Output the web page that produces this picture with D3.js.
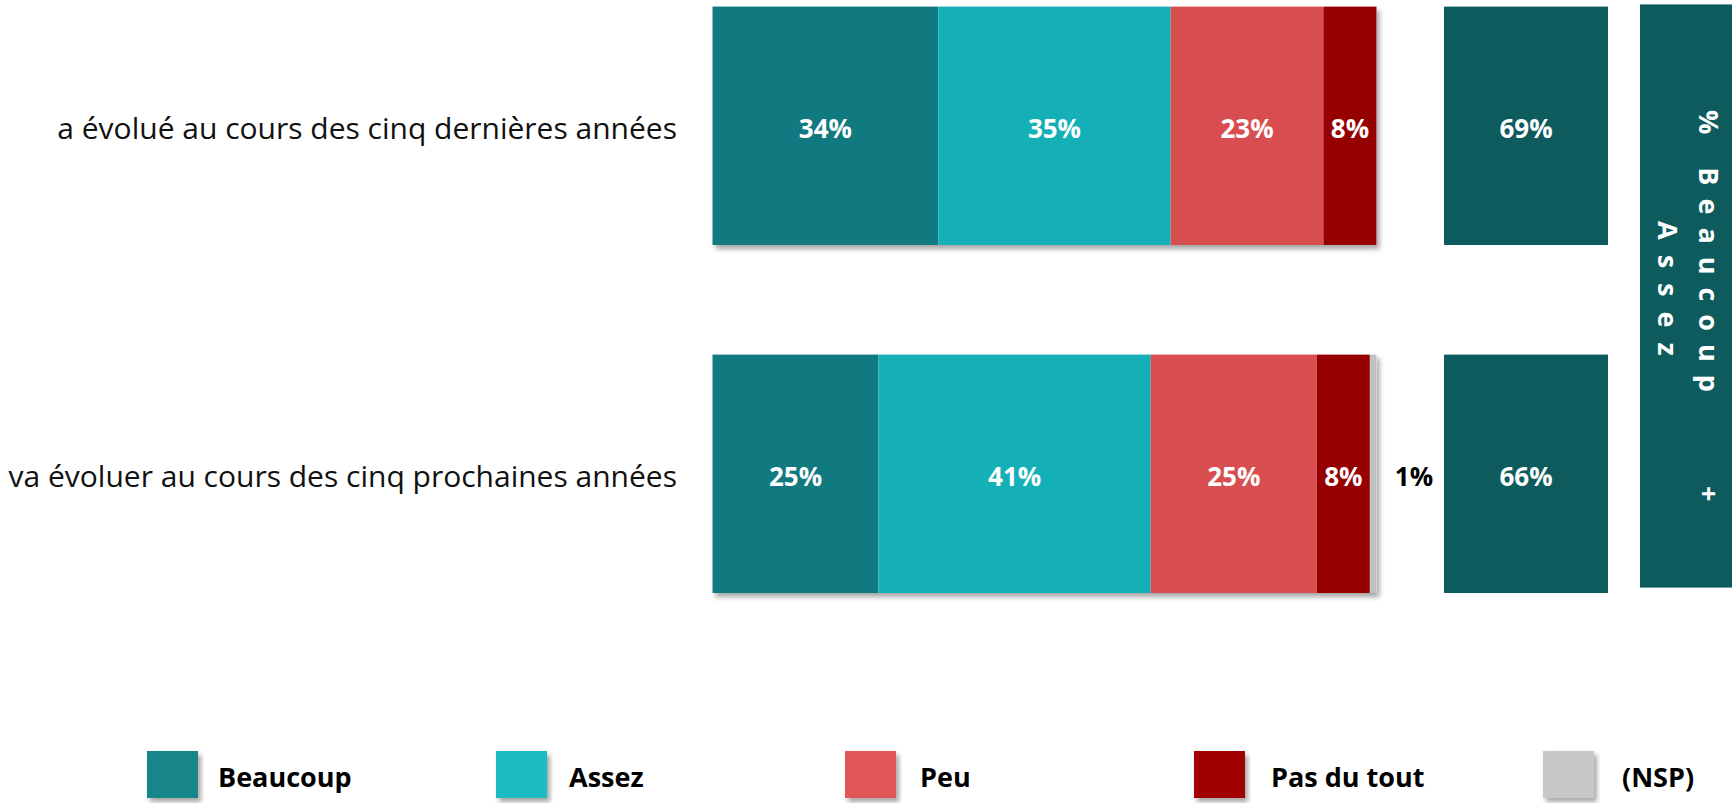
<!DOCTYPE html>
<html lang="fr">
<head>
<meta charset="utf-8">
<title>Evolution - Beaucoup / Assez / Peu</title>
<script src="https://cdn.jsdelivr.net/npm/d3@7"></script>
<style>
  body { margin: 0; background: #fff; }
  text { font-family: 'Open Sans', sans-serif; }
</style>
</head>
<body>
<script>
var w = 1732, h = 803;

// data
var categories = ['a évolué au cours des cinq dernières années', 'va évoluer au cours des cinq prochaines années'];
var seriesNames = ['Beaucoup', 'Assez', 'Peu', 'Pas du tout', '(NSP)'];
var beaucoup = [34, 25];
var assez = [35, 41];
var peu = [23, 25];
var pasDuTout = [8, 8];
var nsp = [0, 1];
var totals = [69, 66];
var totalTitle = ['% Beaucoup', '+', 'Assez'];

var barColors = ['#107a80', '#14afb7', '#d84e50', '#960000', '#c0c0c0'];
var legendColors = ['#15868b', '#1bbcc4', '#e05556', '#a10505', '#c8c8c8'];
var totalColor = '#0e5b5e';

// table for the stack layout
var rows = categories.map(function(c, i) {
    return { cat: c, 'Beaucoup': beaucoup[i], 'Assez': assez[i], 'Peu': peu[i],
             'Pas du tout': pasDuTout[i], '(NSP)': nsp[i] };
});
var stacked = d3.stack().keys(seriesNames)(rows);

var xScale = d3.scaleLinear().domain([0, 100]).range([712.5, 1376.5]);
var yScale = d3.scaleBand().domain(categories).range([6.6, 593]).paddingInner(0.315);

var svg = d3.select('body').append('svg')
    .attr('width', w)
    .attr('height', h);

var defs = svg.append('defs');
defs.append('filter').attr('id', 'shadow')
    .attr('x', '-5%').attr('y', '-5%').attr('width', '115%').attr('height', '120%')
  .append('feDropShadow')
    .attr('dx', 3).attr('dy', 4).attr('stdDeviation', 2.5)
    .attr('flood-color', '#000').attr('flood-opacity', 0.35);

// category labels
svg.append('g').selectAll('text')
    .data(categories)
    .enter().append('text')
    .attr('x', 677)
    .attr('y', function(d) { return yScale(d) + yScale.bandwidth() / 2 + 2; })
    .attr('text-anchor', 'end')
    .attr('dominant-baseline', 'central')
    .attr('font-size', '30px')
    .attr('fill', '#111')
    .text(function(d) { return d; });

// white rects carrying the drop shadow under each whole bar
var rowGroups = svg.append('g').selectAll('g.row')
    .data(categories)
    .enter().append('g')
    .attr('class', 'row')
    .attr('filter', 'url(#shadow)');

rowGroups.append('rect')
    .attr('x', xScale(0))
    .attr('y', function(d) { return yScale(d); })
    .attr('width', function(d, i) {
        var last = stacked[stacked.length - 1][i];
        return xScale(last[1]) - xScale(0);
    })
    .attr('height', yScale.bandwidth())
    .attr('fill', '#fff');

// stacked bars
var series = svg.append('g').selectAll('g.series')
    .data(stacked)
    .enter().append('g')
    .attr('class', 'series')
    .attr('fill', function(d, i) { return barColors[i]; });

series.selectAll('rect')
    .data(function(d) { return d; })
    .enter().append('rect')
    .attr('x', function(d) { return xScale(d[0]); })
    .attr('y', function(d) { return yScale(d.data.cat); })
    .attr('width', function(d) { return xScale(d[1]) - xScale(d[0]); })
    .attr('height', yScale.bandwidth());

// segment labels (tiny values go outside the bar, in black)
series.each(function(s, si) {
    d3.select(this).selectAll('text')
        .data(s.filter(function(d) { return d[1] - d[0] > 0; }))
        .enter().append('text')
        .attr('x', function(d) {
            var v = d[1] - d[0];
            if (v < 3) return xScale(100) + 37.5;
            return (xScale(d[0]) + xScale(d[1])) / 2;
        })
        .attr('y', function(d) { return yScale(d.data.cat) + yScale.bandwidth() / 2 + 2; })
        .attr('text-anchor', 'middle')
        .attr('dominant-baseline', 'central')
        .attr('font-size', '26px')
        .attr('font-weight', 'bold')
        .attr('fill', function(d) { return (d[1] - d[0] < 3) ? '#000' : '#fff'; })
        .text(function(d) { return (d[1] - d[0]) + '%'; });
});

// totals Beaucoup + Assez
var totalBoxes = svg.append('g').selectAll('g')
    .data(totals)
    .enter().append('g');

totalBoxes.append('rect')
    .attr('x', 1444)
    .attr('y', function(d, i) { return yScale(categories[i]); })
    .attr('width', 164)
    .attr('height', yScale.bandwidth())
    .attr('fill', totalColor);

totalBoxes.append('text')
    .attr('x', 1526)
    .attr('y', function(d, i) { return yScale(categories[i]) + yScale.bandwidth() / 2 + 2; })
    .attr('text-anchor', 'middle')
    .attr('dominant-baseline', 'central')
    .attr('font-size', '26px')
    .attr('font-weight', 'bold')
    .attr('fill', '#fff')
    .text(function(d) { return d + '%'; });

// vertical header box
svg.append('rect')
    .attr('x', 1640)
    .attr('y', 4.4)
    .attr('width', 100)
    .attr('height', 583.2)
    .attr('fill', totalColor);

var hdr = svg.append('g')
    .attr('transform', 'translate(1689,0) rotate(90)')
    .attr('font-size', '27px')
    .attr('font-weight', 'bold')
    .attr('fill', '#fff');

var line1 = hdr.append('text')
    .attr('x', 110)
    .attr('y', -20.5)
    .attr('dominant-baseline', 'central')
    .style('letter-spacing', '13px');
line1.append('tspan').text(totalTitle[0]);
line1.append('tspan').attr('dx', 81).text(totalTitle[1]);

hdr.append('text')
    .attr('x', 221)
    .attr('y', 20.5)
    .attr('dominant-baseline', 'central')
    .style('letter-spacing', '15px')
    .text(totalTitle[2]);

// legend
var legend = svg.append('g').selectAll('g')
    .data(seriesNames)
    .enter().append('g')
    .attr('transform', function(d, i) { return 'translate(' + (147 + i * 349) + ',751)'; });

legend.append('rect')
    .attr('width', 51)
    .attr('height', 47)
    .attr('fill', function(d, i) { return legendColors[i]; })
    .attr('filter', 'url(#shadow)');

legend.append('text')
    .attr('x', function(d, i) { return 71 + i * 2; })
    .attr('y', 25)
    .attr('dominant-baseline', 'central')
    .attr('font-size', '27px')
    .attr('font-weight', 'bold')
    .attr('fill', '#000')
    .text(function(d) { return d; });
</script>
</body>
</html>
